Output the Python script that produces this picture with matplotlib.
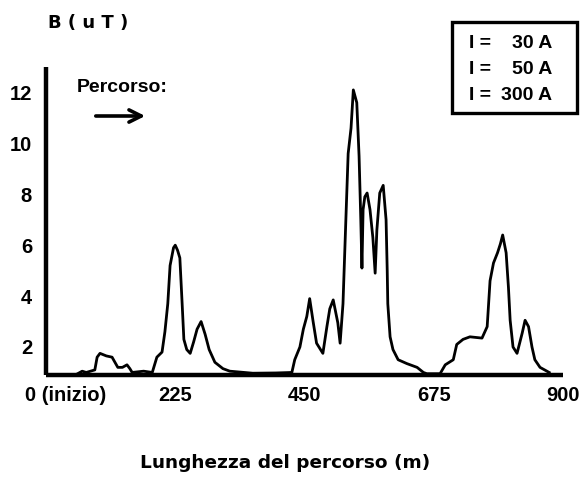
import matplotlib
matplotlib.use("Agg")
import matplotlib.pyplot as plt
from matplotlib.patches import Rectangle
from matplotlib.transforms import ScaledTranslation
from matplotlib import font_manager

# ---- data ----
distance_m = [55, 63, 70, 85, 89, 94, 105, 115, 120, 125, 133, 141, 146, 150, 170, 185,
              193, 202, 207, 212, 216, 222, 225, 229, 233, 237, 240, 245, 251, 257, 263,
              270, 277, 284, 294, 308, 320, 360, 400, 428, 433, 442, 448, 454, 459, 465,
              471, 482, 489, 494, 500, 508, 512, 517, 522, 526, 531, 535, 541, 545, 548,
              550, 552, 555, 559, 564, 569, 573, 576, 581, 587, 592, 594, 595, 599, 604,
              613, 628, 646, 657, 663, 686, 695, 709, 715, 726, 738, 759, 768, 773, 779,
              786, 791, 795, 801, 805, 808, 813, 820, 829, 834, 840, 846, 851, 860, 872, 876]
b_field_uT = [0.95, 1.05, 1.0, 1.1, 1.6, 1.75, 1.65, 1.6, 1.4, 1.2, 1.2, 1.3, 1.15, 1.0, 1.05, 1.0,
              1.6, 1.8, 2.6, 3.7, 5.2, 5.9, 6.0, 5.8, 5.5, 3.7, 2.3, 1.9, 1.75, 2.2, 2.7,
              3.0, 2.5, 1.9, 1.4, 1.15, 1.05, 0.97, 0.98, 1.0, 1.5, 2.0, 2.7, 3.2, 3.9, 3.0,
              2.15, 1.75, 2.8, 3.5, 3.85, 2.95, 2.15, 3.7, 7.0, 9.6, 10.6, 12.1, 11.6, 9.5, 7.0,
              5.1, 7.4, 7.9, 8.05, 7.4, 6.3, 4.9, 6.6, 8.05, 8.35, 7.0, 5.0, 3.7, 2.4, 1.9,
              1.5, 1.35, 1.2, 1.0, 0.95, 0.95, 1.3, 1.5, 2.1, 2.3, 2.4, 2.35, 2.8, 4.6, 5.3,
              5.7, 6.05, 6.4, 5.7, 4.35, 3.05, 2.0, 1.75, 2.55, 3.05, 2.8, 2.0, 1.5, 1.2, 1.05, 1.0]

x_ticks = [0, 225, 450, 675, 900]
x_tick_labels = ["0 (inizio)", "225", "450", "675", "900"]
y_ticks = [2, 4, 6, 8, 10, 12]
y_tick_labels = ["2", "4", "6", "8", "10", "12"]
currents_A = [30, 50, 300]

names = {f.name for f in font_manager.fontManager.ttflist}
NARROW = "Liberation Sans Narrow" if "Liberation Sans Narrow" in names else None
if NARROW:
    nfam = [NARROW, "DejaVu Sans"]
    nsize = 15.5
else:
    nfam = ["Liberation Sans", "DejaVu Sans"]
    nsize = 14.5

W, H = 584, 480
fig = plt.figure(figsize=(W / 100, H / 100), dpi=100)
fig.patch.set_facecolor("white")

def fx(px):
    return px / W

def fy(py):
    return 1 - py / H

ax = fig.add_axes([fx(46), fy(375), fx(563) - fx(46), fy(67) - fy(375)])
ax.plot(distance_m, b_field_uT, color="black", lw=2.0, solid_joinstyle="round")

ax.set_xlim(0, 900)
ax.set_ylim(0.9, 13.0)
for s in ["top", "right"]:
    ax.spines[s].set_visible(False)
for s in ["left", "bottom"]:
    ax.spines[s].set_linewidth(3.2)
    ax.spines[s].set_color("black")
    ax.spines[s].set_capstyle("butt")

tick_font = dict(family=nfam, weight="bold", size=nsize)
ax.set_xticks(x_ticks)
ax.set_xticklabels(x_tick_labels, **tick_font)
ax.set_yticks(y_ticks)
ax.set_yticklabels(y_tick_labels, **tick_font)
ax.tick_params(axis="both", length=0)
ax.tick_params(axis="x", pad=8)
ax.tick_params(axis="y", pad=10)
# shift the first x label ("0 (inizio)") right as in the reference
lbl0 = ax.get_xticklabels()[0]
lbl0.set_transform(lbl0.get_transform() + ScaledTranslation(20 / 100, 0, fig.dpi_scale_trans))

# axis titles
fig.text(fx(48), fy(23), "B ( u T )", ha="left", va="center",
         family="DejaVu Sans", weight="bold", fontsize=13)
fig.text(fx(285), fy(463), "Lunghezza del percorso (m)", ha="center", va="center",
         family="DejaVu Sans", weight="bold", fontsize=13.3)

# "Percorso:" with arrow
fig.text(fx(77), fy(87), "Percorso:", ha="left", va="center",
         family=nfam, weight="bold", fontsize=nsize - 0.5)
ax.annotate("", xy=(fx(148), fy(116)), xytext=(fx(93), fy(116)),
            xycoords="figure fraction", textcoords="figure fraction",
            arrowprops=dict(arrowstyle="->", lw=2.6, color="black", mutation_scale=22))

# legend-like box of currents
fig.patches.append(Rectangle((fx(452), fy(113)), fx(577) - fx(452), fy(22) - fy(113),
                             transform=fig.transFigure, fill=False, lw=2.4,
                             edgecolor="black"))
row_y = [43, 69, 95]
for cur, yy in zip(currents_A, row_y):
    fig.text(fx(469), fy(yy), "I =", ha="left", va="center",
             family=nfam, weight="bold", fontsize=nsize - 0.5)
    fig.text(fx(552), fy(yy), f"{cur} A", ha="right", va="center",
             family=nfam, weight="bold", fontsize=nsize - 0.5)

fig.savefig("out.png", dpi=100, facecolor="white")
